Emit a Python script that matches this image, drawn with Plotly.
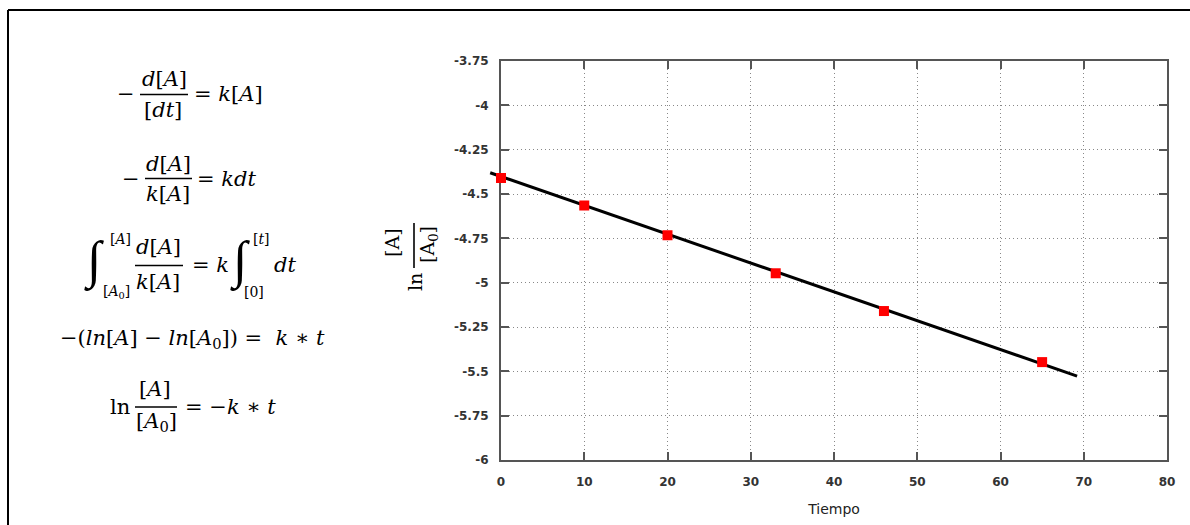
import plotly.graph_objects as go

# ---------------- data ----------------
tiempo = [0, 10, 20, 33, 46, 65]
ln_ratio = [-4.41, -4.565, -4.733, -4.947, -5.16, -5.448]
fit_t = [-1.3, 69.2]
fit_y = [-4.38, -5.527]
x_ticks = [0, 10, 20, 30, 40, 50, 60, 70, 80]
y_ticks = [-6, -5.75, -5.5, -5.25, -5, -4.75, -4.5, -4.25, -4, -3.75]
y_ticktext = ["-6", "-5.75", "-5.5", "-5.25", "-5", "-4.75", "-4.5", "-4.25", "-4", "-3.75"]

W, H = 1190, 525
def px(x):
    return x / W
def py(y):
    return 1 - y / H

# plot area in pixels
L, R, T, B = 501, 1167, 61, 460
xdom = [px(L), px(R)]
ydom = [py(B), py(T)]
xr = [0, 80]
pad_units = 2
x2dom = [px(L) - pad_units * (px(R) - px(L)) / (xr[1] - xr[0]), px(R)]

fig = go.Figure()
fig.add_trace(go.Scatter(x=fit_t, y=fit_y, mode="lines",
                         line=dict(color="black", width=3),
                         xaxis="x2", yaxis="y2", showlegend=False, hoverinfo="skip"))
fig.add_trace(go.Scatter(x=tiempo, y=ln_ratio, mode="markers",
                         marker=dict(symbol="square", color="#ff0000", size=10, line=dict(width=0)),
                         xaxis="x2", yaxis="y2", showlegend=False))
fig.add_trace(go.Scatter(x=[None], y=[None], xaxis="x", yaxis="y", showlegend=False))

tickfont = dict(family="DejaVu Sans", size=12, color="#333", weight="bold")
axcommon = dict(showline=True, linecolor="#555", linewidth=2, mirror="ticks",
                ticks="inside", ticklen=8, tickwidth=1.5, tickcolor="#555",
                showgrid=True, gridcolor="#888", gridwidth=1, griddash="1px,3px",
                zeroline=False, tickfont=tickfont)

annotations = []
shapes = []

def txt(x, y, s, size=21, xanchor="center", angle=0, family="DejaVu Serif", color="black"):
    annotations.append(dict(x=px(x), y=py(y), xref="paper", yref="paper", text=s,
                            showarrow=False, xanchor=xanchor, yanchor="middle",
                            textangle=angle, font=dict(family=family, size=size, color=color)))

def hbar(x0, x1, y, w=1.6):
    shapes.append(dict(type="line", xref="paper", yref="paper", x0=px(x0), x1=px(x1),
                       y0=py(y), y1=py(y), line=dict(color="black", width=w)))

def vbar(x, y0, y1, w=1.6):
    shapes.append(dict(type="line", xref="paper", yref="paper", x0=px(x), x1=px(x),
                       y0=py(y0), y1=py(y1), line=dict(color="black", width=w)))

dA = "<i>d</i>[<i>A</i>]"
kA = "<i>k</i>[<i>A</i>]"
A = "[<i>A</i>]"
A0 = "[<i>A</i><sub>0</sub>]"

# Eq 1
txt(126, 94, "\u2212")
txt(164, 79, dA)
hbar(140, 188, 94.5)
txt(163, 110, "[<i>dt</i>]")
txt(192, 94, "= " + kA, xanchor="left")
# Eq 2
txt(131, 179, "\u2212")
txt(168, 164, dA)
hbar(145, 192, 178.5)
txt(168, 194, kA)
txt(195, 179, "= <i>kdt</i>", xanchor="left")
# Eq 3
txt(94, 261, "<i>\u222b</i>", size=52, family="Liberation Serif")
txt(120, 239, A, size=14)
txt(116, 292, A0, size=14)
txt(158, 247, dA)
hbar(135, 183, 265.5)
txt(158, 282, kA)
txt(190, 265, "= <i>k</i>", xanchor="left")
txt(240, 261, "<i>\u222b</i>", size=52, family="Liberation Serif")
txt(261, 239, "[<i>t</i>]", size=14)
txt(254, 292, "[0]", size=14)
txt(272, 265, "<i>dt</i>", xanchor="left")
# Eq 4
txt(192, 339, "\u2212(<i>ln</i>[<i>A</i>] \u2212 <i>ln</i>" + A0 + ") =  <i>k</i> \u2217 <i>t</i>")
# Eq 5
txt(120, 407, "ln")
txt(155, 389, A)
hbar(135, 177, 407)
txt(156, 422, A0)
txt(183, 407, "= \u2212<i>k</i> \u2217 <i>t</i>", xanchor="left")

# Y-axis title (rotated)
txt(415, 282, "ln", size=19, angle=-90)
txt(392, 243, "[A]", size=19, angle=-90)
vbar(414, 223, 268)
txt(428, 245, "[A<sub>0</sub>]", size=19, angle=-90)

# outer frame
shapes.append(dict(type="line", xref="paper", yref="paper", x0=px(8), x1=1.0,
                   y0=py(10), y1=py(10), line=dict(color="black", width=2)))
shapes.append(dict(type="line", xref="paper", yref="paper", x0=px(8), x1=px(8),
                   y0=0, y1=py(10), line=dict(color="black", width=2)))

fig.update_layout(
    width=W, height=H,
    margin=dict(l=0, r=0, t=0, b=0, autoexpand=False),
    paper_bgcolor="white", plot_bgcolor="rgba(0,0,0,0)",
    showlegend=False,
    xaxis=dict(domain=xdom, range=xr, tickvals=x_ticks, ticklabelstandoff=10,
               title=dict(text="Tiempo", font=dict(family="DejaVu Sans", size=14, color="#222"), standoff=16),
               **axcommon),
    yaxis=dict(domain=ydom, range=[-6, -3.75], tickvals=y_ticks, ticktext=y_ticktext,
               ticklabelstandoff=8, **axcommon),
    xaxis2=dict(domain=x2dom, range=[-pad_units, 80], visible=False, anchor="y2", fixedrange=True),
    yaxis2=dict(domain=ydom, range=[-6, -3.75], visible=False, anchor="x2", fixedrange=True),
    annotations=annotations,
    shapes=shapes,
)

fig.write_html("out.html")
